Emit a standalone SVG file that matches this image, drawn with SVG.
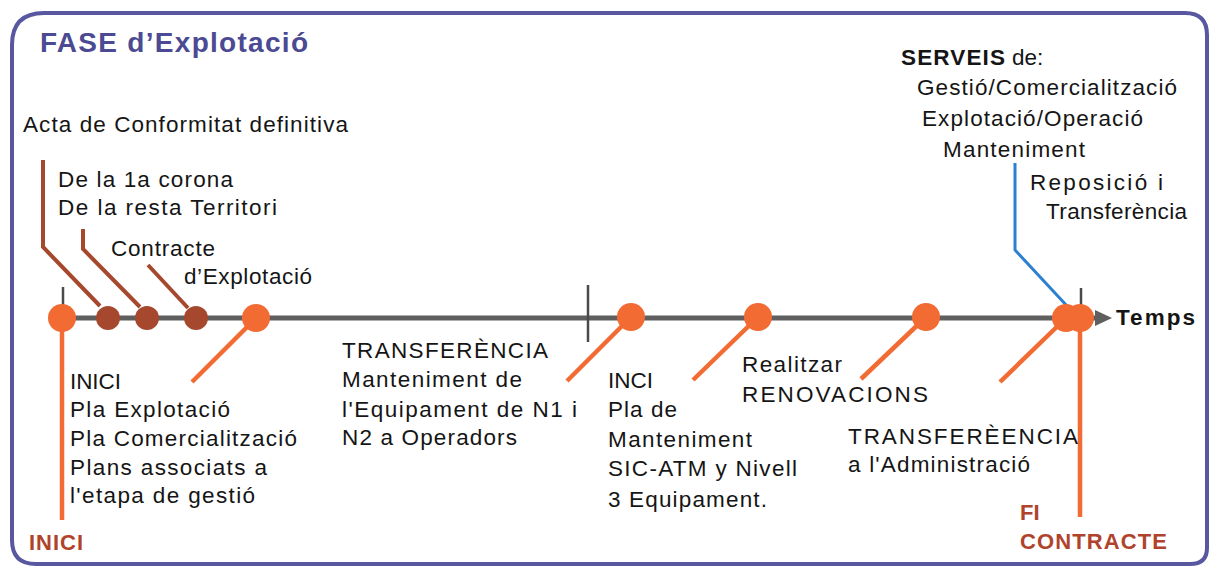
<svg xmlns="http://www.w3.org/2000/svg" width="1212" height="569" viewBox="0 0 1212 569">
<style>
.t{font-family:"Liberation Sans",Arial,sans-serif;font-size:22.5px;fill:#151515}
.b{font-weight:bold}
.red{font-family:"Liberation Sans",Arial,sans-serif;font-size:22px;font-weight:bold;fill:#b0432c}
.or{stroke:#f26b32;stroke-width:4.5;fill:none;stroke-linecap:butt}
.br{stroke:#a5482e;stroke-width:4;fill:none}
.oc{fill:#f26b32}
.bc{fill:#a5482e}
.tick{stroke:#4a4a4a;stroke-width:2.5}
</style>
<rect width="1212" height="569" fill="#ffffff"/>
<path d="M12,540 L12,45 Q12,13 44,13 L1185,13 Q1207,13 1207,35 L1207,548 Q1207,564 1190,564 L36,564 Q12,564 12,540 Z" fill="none" stroke="#5857a0" stroke-width="4"/>
<text x="40" y="52" font-family="'Liberation Sans',Arial,sans-serif" font-size="28" font-weight="bold" fill="#4b4a92" textLength="268">FASE d’Explotació</text>

<g id="timeline">
<line x1="62" y1="318" x2="1097" y2="318" stroke="#5f5f5f" stroke-width="5"/>
<polygon points="1095,310 1112,318 1095,326" fill="#5f5f5f"/>
<line class="tick" x1="63" y1="287" x2="63" y2="318"/>
<line class="tick" x1="588" y1="285" x2="588" y2="342"/>
<line class="tick" x1="1081" y1="288" x2="1081" y2="318"/>
<text class="t b" x="1116" y="325" textLength="79">Temps</text>
</g>

<g id="connectors">
<polyline class="br" points="43,160 43,247 100,306"/>
<polyline class="br" points="83,229 83,249 140,307"/>
<line class="br" x1="148" y1="265" x2="188" y2="308"/>
<line class="or" x1="62" y1="320" x2="62" y2="520"/>
<line class="or" x1="256" y1="318" x2="192" y2="382"/>
<line class="or" x1="631" y1="317" x2="567" y2="381"/>
<line class="or" x1="758" y1="317" x2="693" y2="380"/>
<line class="or" x1="926" y1="317" x2="861" y2="379"/>
<line class="or" x1="1066" y1="318" x2="1000" y2="382"/>
<line class="or" x1="1080" y1="318" x2="1080" y2="517"/>
<polyline points="1015,163 1015,250 1068,307" fill="none" stroke="#2c80d2" stroke-width="3"/>
</g>

<g id="n-inici">
<circle class="oc" cx="62" cy="318" r="14"/>
<text class="t" x="70" y="389" textLength="51">INICI</text>
<text class="t" x="70" y="417" textLength="160">Pla Explotació</text>
<text class="t" x="70" y="446" textLength="227">Pla Comercialització</text>
<text class="t" x="70" y="475" textLength="197">Plans associats a</text>
<text class="t" x="70" y="503" textLength="185">l'etapa de gestió</text>
<text class="red" x="29" y="550" textLength="54">INICI</text>
</g>

<g id="n-acta">
<circle class="bc" cx="108" cy="318" r="12"/>
<text class="t" x="23" y="132" textLength="325">Acta de Conformitat  definitiva</text>
</g>

<g id="n-corona">
<circle class="bc" cx="147" cy="318" r="12"/>
<text class="t" x="58" y="187" textLength="175">De la 1a corona</text>
<text class="t" x="58" y="215" textLength="219">De la resta Territori</text>
</g>

<g id="n-contracte">
<circle class="bc" cx="196" cy="318" r="12"/>
<text class="t" x="111" y="256" textLength="104">Contracte</text>
<text class="t" x="184" y="284" textLength="128">d’Explotació</text>
</g>

<g id="n-transf1">
<circle class="oc" cx="256" cy="318" r="14"/>
<text class="t" x="342" y="358" textLength="206">TRANSFERÈNCIA</text>
<text class="t" x="342" y="387" textLength="180">Manteniment  de</text>
<text class="t" x="342" y="417" textLength="235">l'Equipament  de N1  i</text>
<text class="t" x="342" y="445" textLength="175">N2  a Operadors</text>
</g>

<g id="n-inci">
<circle class="oc" cx="631" cy="317" r="14"/>
<text class="t" x="608" y="388" textLength="45">INCI</text>
<text class="t" x="608" y="417" textLength="69">Pla de</text>
<text class="t" x="608" y="447" textLength="144">Manteniment</text>
<text class="t" x="608" y="476" textLength="189">SIC-ATM  y Nivell</text>
<text class="t" x="608" y="507" textLength="159">3 Equipament.</text>
</g>

<g id="n-renov">
<circle class="oc" cx="758" cy="317" r="14"/>
<text class="t" x="742" y="372" textLength="100">Realitzar</text>
<text class="t" x="742" y="402" textLength="186">RENOVACIONS</text>
</g>

<g id="n-transf2">
<circle class="oc" cx="926" cy="317" r="14"/>
<text class="t" x="848" y="444" textLength="230">TRANSFERÈENCIA</text>
<text class="t" x="848" y="472" textLength="182">a l'Administració</text>
</g>

<g id="n-serveis">
<circle class="oc" cx="1066" cy="318" r="14"/>
<text class="t" x="901" y="65"><tspan class="b" textLength="104">SERVEIS</tspan><tspan x="1012">de:</tspan></text>
<text class="t" x="917" y="95" textLength="260">Gestió/Comercialització</text>
<text class="t" x="922" y="126" textLength="221">Explotació/Operació</text>
<text class="t" x="943" y="157" textLength="142">Manteniment</text>
<text class="t" x="1030" y="190" textLength="133">Reposició i</text>
<text class="t" x="1046" y="219" textLength="141">Transferència</text>
</g>

<g id="n-fi">
<circle class="oc" cx="1080" cy="318" r="14"/>
<text class="red" x="1020" y="520">FI</text>
<text class="red" x="1020" y="549" textLength="147">CONTRACTE</text>
</g>
</svg>
